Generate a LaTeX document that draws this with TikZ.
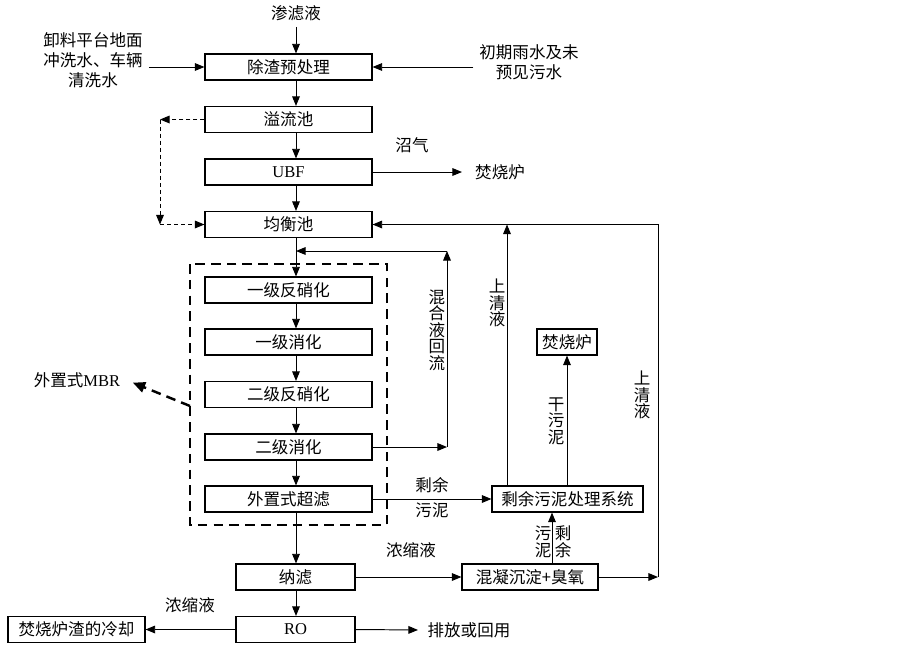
\documentclass[tikz,border=0pt]{standalone}
\usepackage{fontspec}
\setmainfont{Noto Sans CJK SC}
\newfontfamily\latin{Liberation Serif}
\usetikzlibrary{arrows.meta,positioning,calc}
\newcommand\vfont{\fontsize{9.4}{9.4}\selectfont\lineskiplimit=-5pt\lineskip=0pt}

\begin{document}
\begin{tikzpicture}[x=0.02cm, y=-0.02cm, font=\fontsize{9.4}{11.3}\selectfont,
  >={Triangle[length=5.5pt,width=4.4pt]},
  box/.style={draw, line width=0.65pt, minimum height=0.52cm, inner sep=0pt},
  mainbox/.style={box, minimum width=3.34cm},
  smallbox/.style={box, minimum width=2.38cm},
  flow/.style={->, line width=0.55pt},
  thindash/.style={->, line width=0.55pt, dash pattern=on 2.4pt off 1.6pt},
  bigdash/.style={line width=1.4pt, dash pattern=on 5.5pt off 3.5pt},
  vtext/.style={align=center, inner sep=1pt, font=\vfont}]
\useasboundingbox (0,0) rectangle (902,646);

% main line
\node (shenlv) at (296,13) {渗滤液};
\node[mainbox] (chuzha) at (288.5,67) {除渣预处理};
\node[mainbox] (yiliu) at (288.5,119.5) {溢流池};
\node[mainbox] (ubf) at (288.5,172) {\latin UBF};
\node[mainbox] (junheng) at (288.5,224.5) {均衡池};
\node[mainbox] (fanxiao1) at (288.5,290) {一级反硝化};
\node[mainbox] (xiaohua1) at (288.5,342) {一级消化};
\node[mainbox] (fanxiao2) at (288.5,394.5) {二级反硝化};
\node[mainbox] (xiaohua2) at (288.5,447) {二级消化};
\node[mainbox] (chaolv) at (288.5,499) {外置式超滤};
\node[smallbox] (nalv) at (295.5,577) {纳滤};
\node[smallbox] (ro) at (295.5,629.5) {\latin RO};
\node[box, minimum width=2.74cm] (lengque) at (76.5,629.5) {焚烧炉渣的冷却};
\node[box, minimum width=2.72cm] (hunning) at (530,577) {混凝沉淀+臭氧};
\node[box, minimum width=3.02cm] (shengyu) at (567.5,499) {剩余污泥处理系统};
\node[box, minimum width=1.2cm] (fsl) at (567,342) {焚烧炉};

% side texts
\node[align=center] (xieliao) at (93,60.5) {卸料平台地面\\冲洗水、车辆\\清洗水};
\node[align=center] (chuqi) at (529,62.5) {初期雨水及未\\预见污水};
\node (zhaoqi) at (412,145) {沼气};
\node (fslt) at (500,172) {焚烧炉};
\node (mbr) at (77,380) {外置式{\latin MBR}};
\node[vtext] (hlhl) at (437,330) {混\\合\\液\\回\\流};
\node[vtext] (sq1) at (497,303) {上\\清\\液};
\node[vtext] (sq2) at (642,395) {上\\清\\液};
\node[vtext] (gwn) at (556,421) {干\\污\\泥};
\node[vtext] (wn) at (543,542) {污\\泥};
\node[vtext] (sy) at (563,542) {剩\\余};
\node (nsy1) at (411,550) {浓缩液};
\node (nsy2) at (190,605) {浓缩液};
\node (paifang) at (469,630) {排放或回用};

\coordinate (spine) at (296,0);
\coordinate (dl1) at (160,119.5);
\coordinate (dl2) at (160,224.5);
\coordinate (hr1) at (447,447);
\coordinate (hr2) at (447,251);
\coordinate (sqx) at (507,0);
\coordinate (wnx) at (552,0);
\coordinate (rc) at (658,577);
\coordinate (mbrc) at (190,406);

\draw[bigdash] (190,264) rectangle (387,525);
\draw[bigdash, -{Triangle[length=7pt,width=6pt]}, shorten >=4pt] (mbrc) -- (mbr.east);

\draw[flow] (shenlv.south) -- (chuzha.north -| spine);
\foreach \a/\b in {chuzha/yiliu, yiliu/ubf, ubf/junheng, junheng/fanxiao1,
  fanxiao1/xiaohua1, xiaohua1/fanxiao2, fanxiao2/xiaohua2, xiaohua2/chaolv,
  chaolv/nalv, nalv/ro}
  \draw[flow] (\a.south -| spine) -- (\b.north -| spine);

\draw[flow] (xieliao.east |- chuzha) -- (chuzha.west);
\draw[flow] (chuqi.west |- chuzha) -- (chuzha.east);
\draw[flow, shorten >=4pt] (ubf.east) -- (fslt.west);

\draw[thindash] (yiliu.west) -- (dl1);
\draw[thindash] (dl1) -- (dl2);
\draw[thindash] (dl2) -- (junheng.west);

% mixed liquor return
\draw[flow] (xiaohua2.east) -- (hr1);
\draw[flow] (hr1) -- (hr2);
\draw[flow] (hr2) -- (hr2 -| spine);

\draw[flow] (chaolv.east) -- node[above=0pt] {剩余} node[below=-1.5pt] {污泥} (shengyu.west);
\draw[flow] (shengyu.north -| sqx) -- (junheng.east -| sqx);
\draw[flow] (shengyu.north -| fsl) -- (fsl.south);
\draw[flow] (hunning.north -| wnx) -- (shengyu.south -| wnx);
\draw[flow] (nalv.east) -- (hunning.west);
\draw[flow] (hunning.east) -- (rc);
\draw[flow] (rc) |- (junheng.east);
\draw[flow] (ro.west) -- (lengque.east);
\draw[flow, shorten >=2pt] (ro.east) -- (paifang.west);
\end{tikzpicture}
\end{document}
